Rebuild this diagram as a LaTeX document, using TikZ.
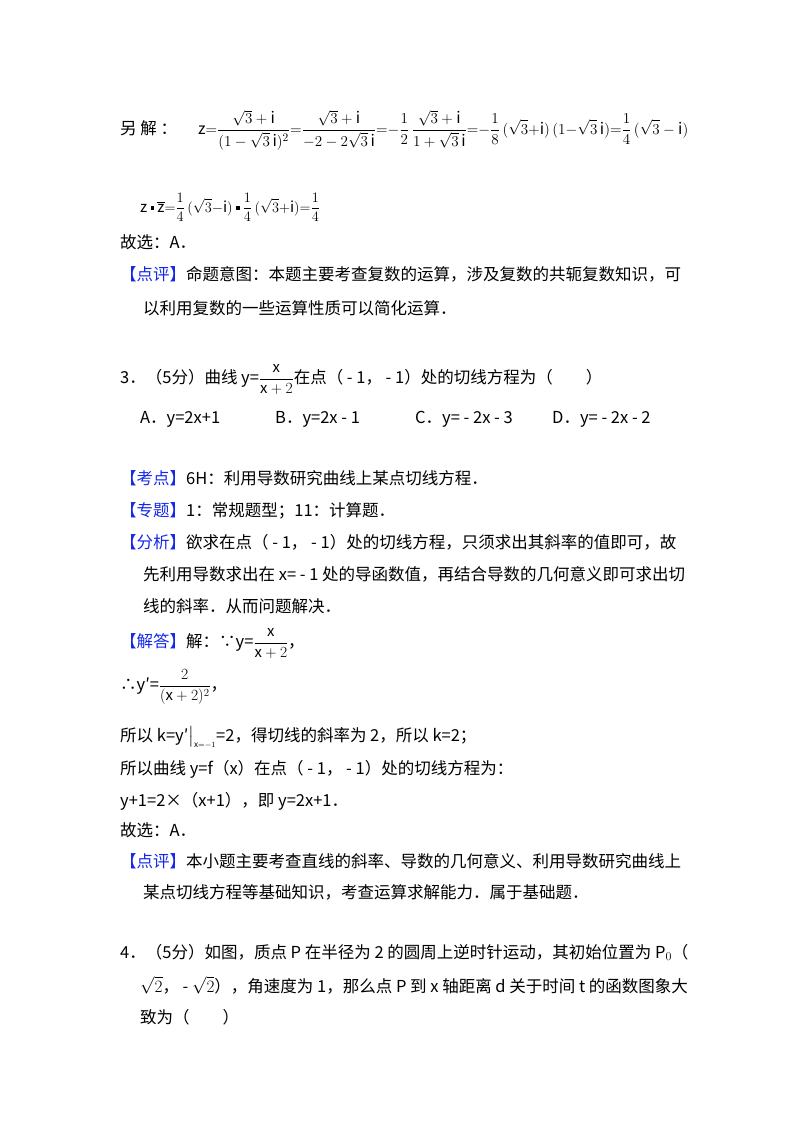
\documentclass[tikz,border=0pt]{standalone}
\usepackage{amsmath}
\usepackage{fontspec}
\setmainfont{Noto Sans CJK SC}
\definecolor{lblue}{RGB}{20,40,230}
\tikzset{t/.style={anchor=base west,inner sep=0pt,font=\fontsize{16.5}{20}\selectfont},
 m/.style={anchor=base west,inner sep=0pt,font=\fontsize{15}{17}\selectfont}}
\newcommand{\lab}[1]{\textcolor{lblue}{【#1】}}
\newcommand{\sqdot}{\mathbin{\rule[0.25ex]{0.45ex}{0.45ex}}}
\newcommand{\sm}[1]{\scalebox{0.9}{$\displaystyle #1$}}
\begin{document}
\begin{tikzpicture}[x=1pt,y=-1pt]
\useasboundingbox (0,0) rectangle (800,1132);
\node[t] (a1) at (120,134) {另\ 解\ ：};
\node[m] (a2) at (198,134) {\scalebox{1.05}{$\displaystyle\mathrm{z}{=}\frac{\sqrt3+\mathrm{i}}{(1-\sqrt3\,\mathrm{i})^{2}}{=}\frac{\sqrt3+\mathrm{i}}{-2-2\sqrt3\,\mathrm{i}}{=}{-}\frac12\,\frac{\sqrt3+\mathrm{i}}{1+\sqrt3\,\mathrm{i}}{=}{-}\frac18\,(\sqrt3{+}\mathrm{i})\,(1{-}\sqrt3\,\mathrm{i}){=}\frac14\,(\sqrt3-\mathrm{i})$}};
\node[m] (a3) at (140,212) {$\displaystyle\mathrm{z}\sqdot\overline{\mathrm{z}}{=}\frac14\,(\sqrt3{-}\mathrm{i})\sqdot\frac14\,(\sqrt3{+}\mathrm{i}){=}\frac14$};
\node[t] (a4) at (120,248) {故选：A．};
\node[t] (a5) at (120,280) {\lab{点评}命题意图：本题主要考查复数的运算，涉及复数的共轭复数知识，可};
\node[t] (a6) at (143,314) {以利用复数的一些运算性质可以简化运算．};
\node[t] (b1) at (120,383) {3．（5分）曲线 y=\sm{\frac{\mathrm{x}}{\mathrm{x}+2}}在点（ - 1，  - 1）处的切线方程为（\qquad）};
\node[t] (b2) at (140,423) {A．y=2x+1};
\node[t] (b3) at (275,423) {B．y=2x - 1};
\node[t] (b4) at (415,423) {C．y= - 2x - 3};
\node[t] (b5) at (552,423) {D．y= - 2x - 2};
\node[t] (c1) at (120,484) {\lab{考点}6H：利用导数研究曲线上某点切线方程．};
\node[t] (c2) at (120,516) {\lab{专题}1：常规题型；11：计算题．};
\node[t] (c3) at (120,548) {\lab{分析}欲求在点（ - 1，  - 1）处的切线方程，只须求出其斜率的值即可，故};
\node[t] (c4) at (143,580) {先利用导数求出在 x= - 1 处的导函数值，再结合导数的几何意义即可求出切};
\node[t] (c5) at (143,612) {线的斜率．从而问题解决．};
\node[t] (d1) at (120,647) {\lab{解答}解：∵y=\sm{\frac{\mathrm{x}}{\mathrm{x}+2}}，};
\node[t] (d2) at (120,690) {∴y′=\sm{\frac{2}{(\mathrm{x}+2)^{2}}}，};
\node[t] (d3) at (120,741) {所以 k=y′$\big|_{\scriptscriptstyle\mathrm{x}=-1}$=2，得切线的斜率为 2，所以 k=2；};
\node[t] (d4) at (120,774) {所以曲线 y=f（x）在点（ - 1，  - 1）处的切线方程为：};
\node[t] (d5) at (120,806) {y+1=2×（x+1），即 y=2x+1．};
\node[t] (d6) at (120,836) {故选：A．};
\node[t] (d7) at (120,867) {\lab{点评}本小题主要考查直线的斜率、导数的几何意义、利用导数研究曲线上};
\node[t] (d8) at (143,898) {某点切线方程等基础知识，考查运算求解能力．属于基础题．};
\node[t] (e1) at (120,958) {4．（5分）如图，质点 P 在半径为 2 的圆周上逆时针运动，其初始位置为 P$_0$（};
\node[t] (e2) at (140,992) {$\sqrt2$，  - $\sqrt2$），角速度为 1，那么点 P 到 x 轴距离 d 关于时间 t 的函数图象大};
\node[t] (e3) at (140,1023) {致为（\qquad）};
\end{tikzpicture}
\end{document}
